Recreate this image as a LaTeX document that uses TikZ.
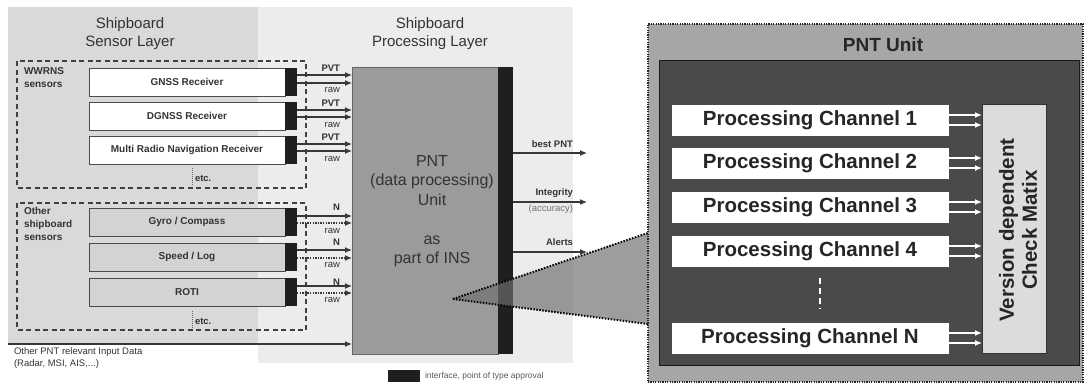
\documentclass[tikz,border=0pt]{standalone}
\usepackage{fontspec}
\setmainfont{Liberation Sans}
\usetikzlibrary{arrows.meta}
\definecolor{sensbg}{HTML}{D9D9D9}
\definecolor{procbg}{HTML}{ECECEC}
\definecolor{boxg}{HTML}{D3D3D3}
\definecolor{pntg}{HTML}{9B9B9B}
\definecolor{barb}{HTML}{1F1F1F}
\definecolor{frameg}{HTML}{A6A6A6}
\definecolor{innerg}{HTML}{4A4A4C}
\definecolor{matg}{HTML}{DCDCDC}
\definecolor{txt}{HTML}{333333}
\definecolor{funnelc}{HTML}{6F6F6F}
\begin{document}
\begin{tikzpicture}[x=1pt,y=-1pt,
  every node/.style={inner sep=0pt, outer sep=0pt},
  sens/.style={draw=black!70, line width=0.8pt, fill=white, anchor=north west,
    minimum width=196pt, minimum height=28pt, text=txt,
    font=\fontsize{10}{12}\selectfont\bfseries},
  sensg/.style={sens, fill=boxg},
  ibar/.style={fill=barb, draw=none, anchor=north west, minimum width=12pt, minimum height=28pt},
  grp/.style={draw=black!75, dash pattern=on 5pt off 3.5pt, line width=1.1pt},
  arr/.style={draw=black!78, line width=1.1pt, -{Latex[length=7pt,width=6pt]}},
  rawarr/.style={arr, dash pattern=on 1.3pt off 1.3pt},
  slbl/.style={anchor=east, text=txt, font=\fontsize{9.5}{10}\selectfont\bfseries},
  rlbl/.style={anchor=east, text=txt, font=\fontsize{9.5}{10}\selectfont},
  title/.style={align=center, text=txt, font=\fontsize{15}{18}\selectfont},
  grplbl/.style={anchor=north west, align=left, text=txt, font=\fontsize{10}{13}\selectfont\bfseries},
  etcl/.style={anchor=west, text=txt, font=\fontsize{9.5}{11}\selectfont\bfseries},
  etcline/.style={draw=black!60, line width=0.8pt, dash pattern=on 1pt off 1pt},
  chan/.style={draw=black!70, line width=0.8pt, fill=white, anchor=north west,
    minimum width=278pt, minimum height=32pt, text=black!85,
    font=\fontsize{20.5}{24}\selectfont\bfseries},
  warr/.style={draw=white, line width=1.3pt, -{Latex[length=7pt,width=6pt]}},
  dotl/.style={draw=black, line width=2pt, dash pattern=on 1.5pt off 1.5pt}
]
\useasboundingbox (0,0) rectangle (1085,383);

% background panels
\fill[procbg] (258,7) rectangle (573,363);
\fill[sensbg] (8,7) rectangle (258,344);

\node[title] (ttl1) at (130,34) {Shipboard\\Sensor Layer};
\node[title] (ttl2) at (430,34) {Shipboard\\Processing Layer};

% group boxes
\draw[grp] (17,61) rectangle (306,188);
\draw[grp] (17,203) rectangle (306,330);
\node[grplbl] (g1) at (24,68) {WWRNS\\sensors};
\node[grplbl] (g2) at (24,207) {Other\\shipboard\\sensors};

% sensors
\node[sens] (gnss) at (89,68) {GNSS Receiver};
\node[sens] (dgnss) at (89,102) {DGNSS Receiver};
\node[sens] (mrn) at (89,136) {Multi Radio Navigation Receiver};
\node[sensg] (gyro) at (89,208) {Gyro / Compass};
\node[sensg] (speed) at (89,243) {Speed / Log};
\node[sensg] (roti) at (89,278) {ROTI};
\node[ibar] (gnssI) at (285,68) {};
\node[ibar] (dgnssI) at (285,102) {};
\node[ibar] (mrnI) at (285,136) {};
\node[ibar] (gyroI) at (285,208) {};
\node[ibar] (speedI) at (285,243) {};
\node[ibar] (rotiI) at (285,278) {};

% etc.
\draw[etcline] (192,168) -- (192,186);
\node[etcl] (etc1) at (195,178) {etc.};
\draw[etcline] (192,311) -- (192,329);
\node[etcl] (etc2) at (195,321) {etc.};

% PNT box
\node[draw=black!60, fill=pntg, line width=0.8pt, anchor=north west,
  minimum width=146pt, minimum height=287pt] (pnt) at (352,67) {};
\node[fill=barb, anchor=north west, minimum width=15pt, minimum height=287pt] (pntI) at (498,67) {};
\node[align=center, text=txt, font=\fontsize{16}{19.5}\selectfont] (pnttxt) at (432,211)
  {PNT\\(data processing)\\Unit\\[19.5pt]as\\part of INS};

% sensor arrows
\draw[arr] (gnssI.east |- 0,75) -- (pnt.west |- 0,75);
\draw[arr] (gnssI.east |- 0,83) -- (pnt.west |- 0,83);
\draw[arr] (dgnssI.east |- 0,110) -- (pnt.west |- 0,110);
\draw[arr] (dgnssI.east |- 0,117) -- (pnt.west |- 0,117);
\draw[arr] (mrnI.east |- 0,144) -- (pnt.west |- 0,144);
\draw[arr] (mrnI.east |- 0,151) -- (pnt.west |- 0,151);
\draw[arr] (gyroI.east |- 0,216) -- (pnt.west |- 0,216);
\draw[rawarr] (gyroI.east |- 0,223) -- (pnt.west |- 0,223);
\draw[arr] (speedI.east |- 0,250) -- (pnt.west |- 0,250);
\draw[rawarr] (speedI.east |- 0,258) -- (pnt.west |- 0,258);
\draw[arr] (rotiI.east |- 0,286) -- (pnt.west |- 0,286);
\draw[rawarr] (rotiI.east |- 0,293) -- (pnt.west |- 0,293);

\node[slbl] (l1) at (340,68) {PVT};
\node[rlbl] (l2) at (340,90) {raw};
\node[slbl] (l3) at (340,103) {PVT};
\node[rlbl] (l4) at (340,125) {raw};
\node[slbl] (l5) at (340,137) {PVT};
\node[rlbl] (l6) at (340,159) {raw};
\node[slbl] (l7) at (340,207) {N};
\node[rlbl] (l8) at (340,231) {raw};
\node[slbl] (l9) at (340,242) {N};
\node[rlbl] (l10) at (340,265) {raw};
\node[slbl] (l11) at (340,282) {N};
\node[rlbl] (l12) at (340,300) {raw};

% other input
\coordinate (inp) at (8,344);
\draw[arr] (inp) -- (inp -| pnt.west);
\node[anchor=north west, align=left, text=txt, font=\fontsize{9.5}{11.5}\selectfont] (inptxt) at (14,348)
  {Other PNT relevant Input Data\\(Radar, MSI, AIS,...)};

% outputs
\coordinate (o1) at (587,153);
\coordinate (o2) at (587,202);
\coordinate (o3) at (587,252);
\draw[arr] (pntI.east |- o1) -- (o1);
\draw[arr] (pntI.east |- o2) -- (o2);
\draw[arr] (pntI.east |- o3) -- (o3);
\node[slbl] (ob) at (573,144) {best PNT};
\node[slbl] (oi) at (573,193) {Integrity};
\node[rlbl, text=black!55] (oa) at (573,209) {(accuracy)};
\node[slbl] (oal) at (573,242) {Alerts};

% legend
\node[fill=barb, anchor=north west, minimum width=32pt, minimum height=12pt] (leg) at (388,370) {};
\node[anchor=west, text=black!65, font=\fontsize{8.5}{10}\selectfont] (legt) at (425,376.5) {interface, point of type approval};

% funnel
\coordinate (apex) at (453,299);
\coordinate (ft) at (648,233);
\coordinate (fb) at (648,324);
\fill[funnelc, opacity=0.68] (apex) -- (ft) -- (fb) -- cycle;
\draw[dotl] (apex) -- (ft);
\draw[dotl] (apex) -- (fb);

% PNT unit frame
\node[draw=black!85, line width=1.3pt, dash pattern=on 1.2pt off 1.2pt, fill=frameg, anchor=north west,
  minimum width=435pt, minimum height=358pt] (frame) at (648,24) {};
\node[text=black!85, font=\fontsize{19}{22}\selectfont\bfseries] (ftitle) at (883,45) {PNT Unit};
\node[draw=black!90, line width=0.8pt, fill=innerg, anchor=north west,
  minimum width=420pt, minimum height=305pt] (inner) at (659,60) {};

\node[chan] (c1) at (671,104) {Processing Channel 1};
\node[chan] (c2) at (671,147) {Processing Channel 2};
\node[chan] (c3) at (671,191) {Processing Channel 3};
\node[chan] (c4) at (671,235) {Processing Channel 4};
\node[chan] (cn) at (671,322) {Processing Channel N};
\draw[draw=white, line width=1.3pt, dash pattern=on 6pt off 4pt] (820,278) -- (820,309);

\node[draw=black!80, line width=0.8pt, fill=matg, anchor=north west,
  minimum width=64pt, minimum height=249pt] (mat) at (982,104) {};
\node[rotate=90, align=center, text=black!85, font=\fontsize{20.5}{23}\selectfont\bfseries] (mtxt) at (1018,230)
  {Version dependent\\Check Matix};

\foreach \c in {c1,c2,c3,c4,cn}{
  \draw[warr] ([yshift=5pt]\c.east) -- ([yshift=5pt]\c.east -| mat.west);
  \draw[warr] ([yshift=-5pt]\c.east) -- ([yshift=-5pt]\c.east -| mat.west);
}
\end{tikzpicture}
\end{document}
